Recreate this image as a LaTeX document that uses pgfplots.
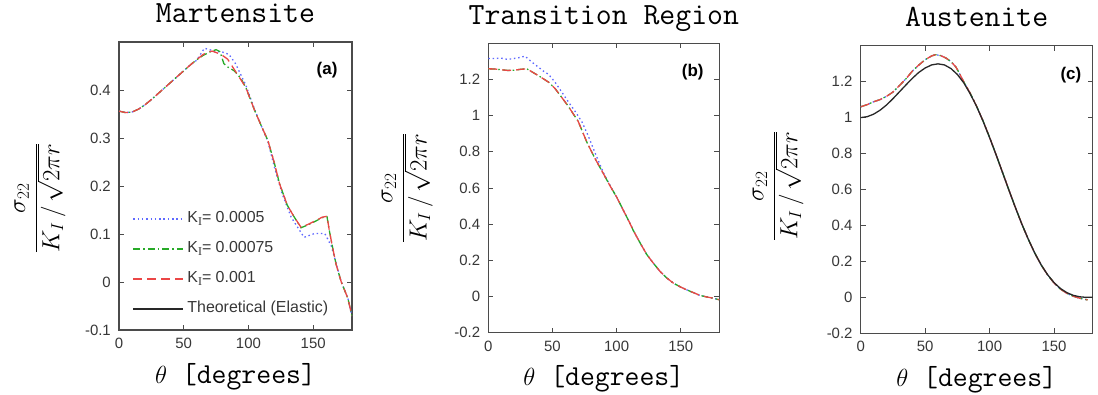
\documentclass[border=0pt]{standalone}
\usepackage{fontspec}
\setmainfont{Liberation Sans}
\newfontfamily\seriffont{Liberation Serif}
\usepackage{pgfplots}
\pgfplotsset{compat=1.18}

\definecolor{cblue}{RGB}{95,105,255}
\definecolor{cgreen}{RGB}{40,170,40}
\definecolor{cred}{RGB}{235,70,70}
\definecolor{cblack}{RGB}{40,40,40}
\definecolor{axgray}{RGB}{75,75,75}
\definecolor{tgray}{RGB}{55,55,55}

\tikzset{plabel/.style={font=\bfseries\fontsize{17}{19}\selectfont}}
\newcommand{\KI}{K\raisebox{-3bp}{\fontsize{12}{12}\selectfont\seriffont I}}

\pgfplotsset{
  every axis title/.style={at={(0.5,1)}, anchor=base, yshift=19bp, font=\ttfamily\fontsize{31}{34}\selectfont},
  panel/.style={
    scale only axis,
    xmin=0, xmax=180,
    xtick={0,50,100,150}, xticklabels={0,50,100,150},
    tick align=inside, xtick pos=both, ytick pos=both,
    major tick length=5bp,
    axis line style={axgray, line width=1.1bp},
    every tick/.style={axgray, line width=0.9bp},
    tick label style={font=\fontsize{15}{17}\selectfont, text=tgray},
    xticklabel style={inner sep=0pt, anchor=north, yshift=-8bp},
    yticklabel style={inner sep=0pt, anchor=east, xshift=-8bp},
    xlabel={$\theta$ [degrees]},
    xlabel style={font=\ttfamily\fontsize{29}{32}\selectfont, at={(axis description cs:0.5,0)}, anchor=base, yshift=-53bp},
    ylabel={$\displaystyle\frac{\sigma_{22}}{K_I\,/\,\sqrt{2\pi r}}$},
    ylabel style={font=\fontsize{26}{30}\selectfont, anchor=center},
    every axis plot/.append style={line width=1.3bp},
  },
  sblue/.style={cblue, dash pattern=on 1.5bp off 2.8bp},
  sgreen/.style={cgreen, dash pattern=on 7bp off 3bp on 1.5bp off 3bp},
  sred/.style={cred, dash pattern=on 9bp off 5bp},
  sblack/.style={cblack, solid},
}

\begin{document}
\begin{tikzpicture}
\useasboundingbox (0,0) rectangle (1098bp,395bp);

% ---------------- (a) Martensite ----------------
\begin{axis}[panel, at={(119bp,65bp)}, anchor=south west, width=233bp, height=288bp,
  ymin=-0.1, ymax=0.5,
  ytick={-0.1,0,0.1,0.2,0.3,0.4}, yticklabels={-0.1,0,0.1,0.2,0.3,0.4},
  title={Martensite},
  ylabel style={at={(axis description cs:-0.339,0.458)}},
  legend cell align=left,
  legend image code/.code={\draw[#1] (0bp,0bp) -- (50bp,0bp);},
  legend style={draw=none, fill=none, at={(axis description cs:0.0588,0.41)}, anchor=north west,
    inner sep=0pt, outer sep=0pt, row sep=16bp, column sep=3.4bp,
    font=\fontsize{16}{18}\selectfont, text=tgray,
    nodes={inner sep=0pt, text height=11bp, text depth=3bp}},
]
\addplot[sblue] coordinates {
(0,0.356)(5,0.353)(10,0.354)(15,0.360)(20,0.369)(25,0.380)(30,0.392)(35,0.404)(40,0.416)
(45,0.428)(50,0.440)(55,0.452)(60,0.462)(66,0.487)(70,0.484)(75,0.480)(80,0.479)(85,0.474)
(90,0.455)(93,0.438)(98,0.410)(102,0.380)(105,0.358)(110,0.325)(115,0.293)(120,0.240)
(126,0.184)(133,0.135)(138,0.114)(143,0.093)(151,0.101)(159,0.101)(164,0.075)(166.5,0.051)
(171.6,0.001)(176.8,-0.034)(180,-0.071)};
\addlegendentry{\KI= 0.0005}
\addplot[sgreen] coordinates {
(0,0.356)(5,0.353)(10,0.354)(15,0.360)(20,0.369)(25,0.380)(30,0.392)(35,0.404)(40,0.416)
(45,0.428)(50,0.440)(55,0.452)(60,0.463)(65,0.472)(70,0.479)(75,0.484)(78,0.480)(81,0.455)
(84,0.448)(89,0.440)(94,0.425)(98,0.405)(102,0.377)(105,0.356)(110,0.325)(115,0.295)
(120,0.248)(124,0.205)(130,0.160)(135,0.137)(140.6,0.113)(146,0.119)(152,0.127)(157,0.134)
(160.7,0.136)(162.5,0.107)(165,0.072)(167.7,0.037)(171.6,0.001)(176.8,-0.034)(180,-0.071)};
\addlegendentry{\KI= 0.00075}
\addplot[sred] coordinates {
(0,0.356)(5,0.353)(10,0.354)(15,0.360)(20,0.369)(25,0.380)(30,0.392)(35,0.404)(40,0.416)
(45,0.428)(50,0.440)(55,0.452)(60,0.463)(65,0.474)(70,0.480)(72,0.481)(76,0.477)(80,0.472)
(84,0.464)(89,0.443)(94,0.422)(98,0.405)(102,0.377)(105,0.356)(110,0.325)(115,0.295)
(120,0.248)(124,0.205)(130,0.160)(135,0.137)(140.6,0.114)(146,0.120)(152,0.128)(157,0.135)
(160.7,0.137)(162.5,0.107)(165,0.072)(167.7,0.037)(171.6,0.001)(176.8,-0.034)(180,-0.071)};
\addlegendentry{\KI= 0.001}
\addlegendimage{sblack, line width=1.3bp}
\addlegendentry{Theoretical (Elastic)}
\node[plabel] at (rel axis cs:0.893,0.903) {(a)};
\end{axis}

% ---------------- (b) Transition Region ----------------
\begin{axis}[panel, at={(488.3bp,62.3bp)}, anchor=south west, width=231bp, height=289.4bp,
  ymin=-0.2, ymax=1.4,
  ytick={-0.2,0,0.2,0.4,0.6,0.8,1,1.2}, yticklabels={-0.2,0,0.2,0.4,0.6,0.8,1,1.2},
  title={Transition Region},
  ylabel style={at={(axis description cs:-0.351,0.5)}},
]
\addplot[sblue] coordinates {
(0,1.316)(5,1.316)(10,1.318)(15,1.311)(20,1.316)(25,1.322)(28.6,1.329)(34,1.296)(43,1.246)
(47,1.228)(52,1.185)(57,1.133)(62,1.080)(68,1.020)(73,0.965)(78,0.886)(84,0.780)(90,0.680)
(95,0.612)(100,0.550)(105,0.480)(110,0.410)(113,0.365)(118,0.300)(123.5,0.232)(128,0.190)
(133.8,0.139)(139,0.103)(144.2,0.074)(150,0.052)(154.6,0.037)(160,0.021)(165,0.006)
(170,-0.002)(175,-0.009)(180,-0.018)};
\addplot[sgreen] coordinates {
(0,1.259)(5,1.258)(10,1.254)(15,1.250)(20,1.251)(25,1.256)(30,1.259)(35,1.238)(40,1.217)
(47,1.185)(52,1.150)(57,1.103)(62,1.055)(70,0.969)(77,0.850)(83,0.765)(90,0.675)(95,0.610)
(100,0.550)(105,0.480)(110,0.410)(113,0.365)(118,0.300)(123.5,0.232)(128,0.190)(133.8,0.139)
(139,0.103)(144.2,0.074)(150,0.052)(154.6,0.037)(160,0.021)(165,0.006)(170,-0.002)
(175,-0.009)(180,-0.018)};
\addplot[sred] coordinates {
(0,1.259)(5,1.258)(10,1.254)(15,1.250)(20,1.251)(25,1.256)(30,1.259)(35,1.238)(40,1.217)
(47,1.185)(52,1.150)(57,1.103)(62,1.055)(70,0.969)(77,0.850)(83,0.765)(90,0.675)(95,0.610)
(100,0.550)(105,0.480)(110,0.410)(113,0.365)(118,0.300)(123.5,0.232)(128,0.190)(133.8,0.139)
(139,0.103)(144.2,0.074)(150,0.052)(154.6,0.037)(160,0.021)(165,0.006)(170,-0.002)
(175,-0.009)(180,-0.018)};
\node[plabel] at (rel axis cs:0.885,0.902) {(b)};
\end{axis}

% ---------------- (c) Austenite ----------------
\begin{axis}[panel, at={(860.7bp,61.7bp)}, anchor=south west, width=232bp, height=287.6bp,
  ymin=-0.2, ymax=1.4,
  ytick={-0.2,0,0.2,0.4,0.6,0.8,1,1.2}, yticklabels={-0.2,0,0.2,0.4,0.6,0.8,1,1.2},
  title={Austenite},
  ylabel style={at={(axis description cs:-0.356,0.512)}},
]
\addplot[sblue] coordinates {
(0,1.060)(5,1.072)(10,1.088)(15,1.100)(20,1.118)(25,1.142)(30,1.178)(35,1.215)(40,1.258)
(45,1.292)(50,1.322)(55,1.343)(58,1.350)(62,1.345)(66,1.332)(70,1.312)(74,1.280)(77,1.240)
(80,1.198)(85,1.135)(90,1.062)(95,0.980)(100,0.890)(105,0.794)(110,0.696)(115,0.597)
(120,0.500)(125,0.408)(130,0.323)(135,0.247)(140,0.180)(145,0.125)(150,0.080)(155,0.046)
(160,0.022)(165,0.006)(170,-0.005)(176,-0.014)};
\addplot[sgreen] coordinates {
(0,1.060)(5,1.072)(10,1.088)(15,1.100)(20,1.118)(25,1.142)(30,1.178)(35,1.215)(40,1.258)
(45,1.292)(50,1.322)(55,1.343)(58,1.350)(62,1.345)(66,1.332)(70,1.312)(74,1.280)(77,1.240)
(80,1.198)(85,1.135)(90,1.062)(95,0.980)(100,0.890)(105,0.794)(110,0.696)(115,0.597)
(120,0.500)(125,0.408)(130,0.323)(135,0.247)(140,0.180)(145,0.125)(150,0.080)(155,0.046)
(160,0.022)(165,0.006)(170,-0.005)(176,-0.014)};
\addplot[sred] coordinates {
(0,1.060)(5,1.072)(10,1.088)(15,1.100)(20,1.118)(25,1.142)(30,1.178)(35,1.215)(40,1.258)
(45,1.292)(50,1.322)(55,1.343)(58,1.350)(62,1.345)(66,1.332)(70,1.312)(74,1.280)(77,1.240)
(80,1.198)(85,1.135)(90,1.062)(95,0.980)(100,0.890)(105,0.794)(110,0.696)(115,0.597)
(120,0.500)(125,0.408)(130,0.323)(135,0.247)(140,0.180)(145,0.125)(150,0.080)(155,0.046)
(160,0.022)(165,0.006)(170,-0.005)(176,-0.014)};
\addplot[sblack] coordinates {
(0,1.000)(5,1.005)(10,1.019)(15,1.041)(20,1.070)(25,1.105)(30,1.143)(35,1.181)(40,1.218)
(45,1.251)(50,1.276)(55,1.293)(60,1.299)(65,1.293)(70,1.273)(75,1.240)(80,1.193)(85,1.132)
(90,1.061)(95,0.979)(100,0.889)(105,0.794)(110,0.695)(115,0.596)(120,0.500)(125,0.408)
(130,0.324)(135,0.247)(140,0.181)(145,0.126)(150,0.082)(155,0.049)(160,0.026)(165,0.011)
(170,0.003)(175,0.000)(180,0.000)};
\node[plabel] at (rel axis cs:0.906,0.898) {(c)};
\end{axis}
\end{tikzpicture}
\end{document}
